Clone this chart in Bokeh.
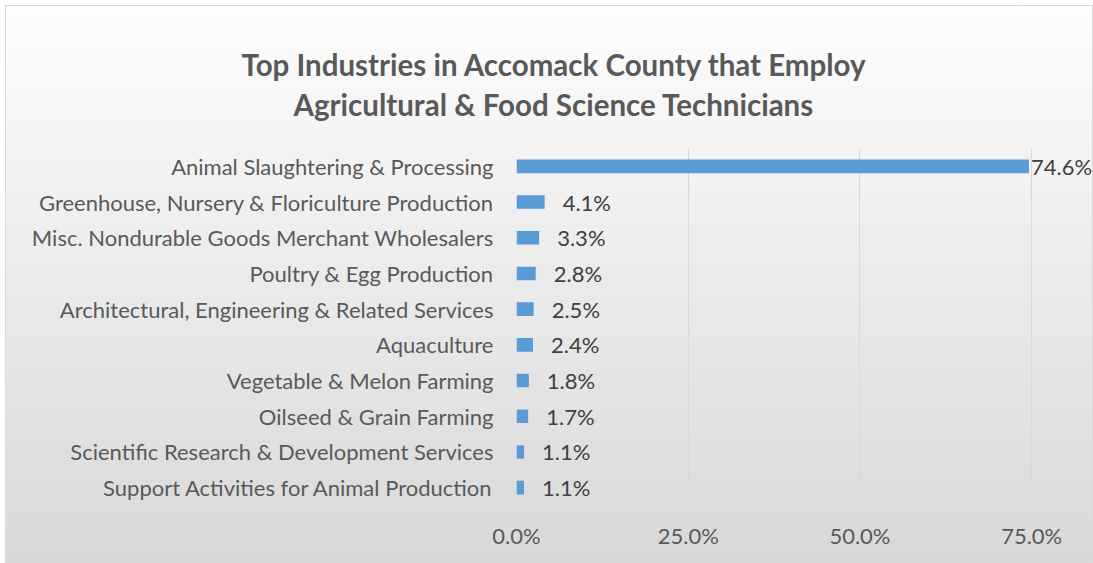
from bokeh.plotting import figure
from bokeh.models import ColumnDataSource, FactorRange, Range1d, FixedTicker, Title
from bokeh.core.properties import value
from bokeh.embed import file_html
from bokeh.resources import INLINE

categories = [
    "Animal Slaughtering & Processing",
    "Greenhouse, Nursery & Floriculture Production",
    "Misc. Nondurable Goods Merchant Wholesalers",
    "Poultry & Egg Production",
    "Architectural, Engineering & Related Services",
    "Aquaculture",
    "Vegetable & Melon Farming",
    "Oilseed & Grain Farming",
    "Scientific Research & Development Services",
    "Support Activities for Animal Production",
]
shares = [74.6, 4.1, 3.3, 2.8, 2.5, 2.4, 1.8, 1.7, 1.1, 1.1]
x_ticks = [0, 25, 50, 75]
x_tick_labels = ["0.0%", "25.0%", "50.0%", "75.0%"]
title_lines = [
    "Top Industries in Accomack County that Employ",
    "Agricultural & Food Science Technicians",
]

FONT = "Lato"
GREY = "#595959"

labels = [f"{v:.1f}%" for v in shares]
offsets = [2 if v > 50 else 18 for v in shares]

src = ColumnDataSource(dict(cat=categories, share=shares, label=labels, xoff=offsets))

W, H = 1088, 558
LEFT, TOP, BOTTOM = 511, 143, 58

p = figure(
    width=W, height=H, title=None,
    y_range=FactorRange(factors=list(reversed(categories)), range_padding=0),
    x_range=Range1d(0, 84),
    output_backend="svg", toolbar_location=None,
    min_border_left=LEFT, min_border_right=0, min_border_bottom=BOTTOM, min_border_top=TOP,
)

# Titles stack outward from the frame: a practically invisible spacer first,
# then the second title line, then the first line on top.
title_kw = dict(align="left", text_font=FONT, text_font_style="bold",
                text_font_size="29.5px", text_color=GREY, standoff=3)
p.add_layout(Title(text=".", text_color="#eeeeee", text_alpha=0.01, align="left",
                   text_font=FONT, text_font_style="bold", text_font_size="29.5px",
                   standoff=1), "above")
p.add_layout(Title(text=title_lines[1], offset=-223, **title_kw), "above")
p.add_layout(Title(text=title_lines[0], offset=-275, **title_kw), "above")

p.hbar(y="cat", left=0, right="share", height=0.38, source=src,
       fill_color="#5B9BD5", line_color=None)
p.text(x="share", y="cat", text="label", x_offset="xoff", source=src,
       text_baseline="middle", text_align="left", text_font=value(FONT),
       text_font_size="22px", text_color="#404040")

p.background_fill_color = None
p.border_fill_color = None
p.outline_line_color = None
p.styles = {
    "margin-left": "5px",
    "margin-top": "5px",
    "background": "linear-gradient(to bottom, #fdfdfd, #d8d8d8)",
    "box-shadow": "inset 0 0 0 1px #d9d9d9",
}

p.ygrid.grid_line_color = None
p.xgrid.grid_line_color = "#d9d9d9"
p.xgrid.grid_line_width = 1
p.xgrid.ticker = FixedTicker(ticks=x_ticks)

p.xaxis.ticker = FixedTicker(ticks=x_ticks)
p.xaxis.major_label_overrides = {t: l for t, l in zip(x_ticks, x_tick_labels)}

for ax in (p.xaxis, p.yaxis):
    ax.axis_line_color = None
    ax.major_tick_line_color = None
    ax.minor_tick_line_color = None
    ax.major_tick_out = 0
    ax.major_tick_in = 0
    ax.major_label_text_font = FONT
    ax.major_label_text_font_size = "22px"
    ax.major_label_text_color = GREY

p.yaxis.major_label_standoff = 23
p.xaxis.major_label_standoff = 16

open("out.html", "w").write(file_html(p, INLINE))
